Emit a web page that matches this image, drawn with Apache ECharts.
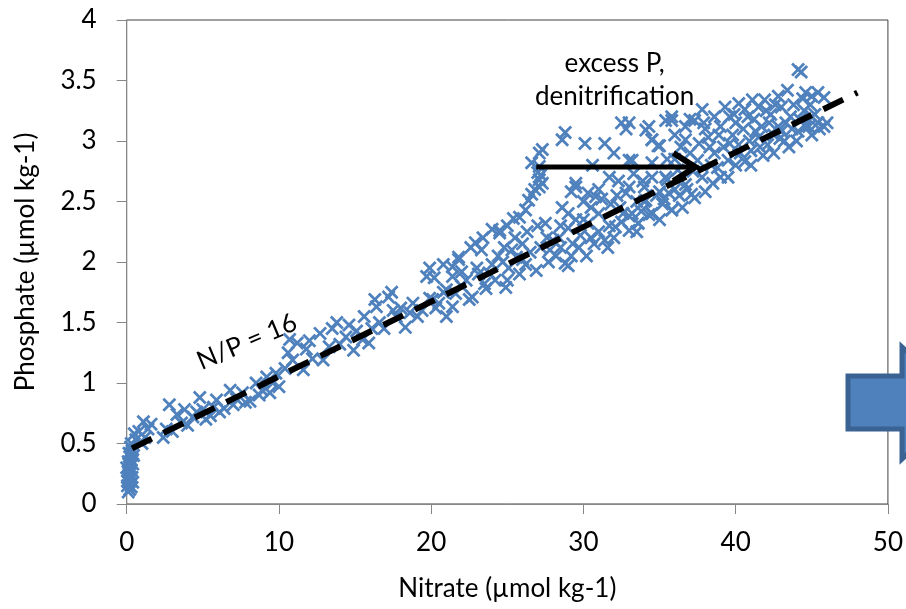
<!DOCTYPE html>
<html><head><meta charset="utf-8">
<script src="https://cdn.jsdelivr.net/npm/echarts@6/dist/echarts.min.js"></script>
<style>html,body{margin:0;padding:0;background:#fff}#c{width:906px;height:609px}</style>
</head><body><div id="c"></div>
<script>
// ---- data ----
const xTitle = 'Nitrate (µmol kg-1)';
const yTitle = 'Phosphate (µmol kg-1)';
const xRange = [0, 50, 10];
const yRange = [0, 4, 0.5];

// [nitrate, phosphate]
const observations = [
  // near-surface cluster
  [0.1,0.10],[0.2,0.12],[0.05,0.15],[0.3,0.14],[0.15,0.18],[0.25,0.2],[0.05,0.22],[0.35,0.22],
  [0.2,0.25],[0.1,0.27],[0.3,0.28],[0.0,0.3],[0.2,0.31],[0.4,0.33],[0.1,0.35],[0.3,0.36],
  [0.2,0.39],[0.45,0.4],[0.15,0.42],[0.35,0.44],[0.25,0.47],[0.05,0.19],[0.4,0.18],[0.15,0.33],
  [0.3,0.5],[0.6,0.53],[0.8,0.6],[1.1,0.68],[1.4,0.62],[1.0,0.5],[0.5,0.58],[1.2,0.55],[0.4,0.45],[1.6,0.66],
  // 2-10
  [2.4,0.55],[2.8,0.82],[3.0,0.6],[3.3,0.74],[3.6,0.67],[4.0,0.65],[4.35,0.72],[4.8,0.88],[5.0,0.78],
  [5.2,0.70],[5.5,0.73],[5.9,0.86],[6.1,0.76],[6.4,0.79],[6.8,0.94],[7.0,0.82],[7.2,0.87],[7.6,0.92],
  [7.8,0.84],[8.1,0.85],[8.5,1.0],[8.7,0.9],[8.9,0.94],[9.2,1.05],[9.4,0.92],[9.6,1.0],[9.8,1.08],
  [10.0,0.97],[4.6,0.76],[5.7,0.80],[2.6,0.62],[3.8,0.78],
  // 10-21
  [10.4,1.12],[10.6,1.25],[10.7,1.36],[10.9,1.19],[11.2,1.33],[11.6,1.11],[11.8,1.28],[12.2,1.2],
  [12.7,1.41],[12.9,1.19],[13.3,1.3],[13.8,1.5],[14.0,1.32],[14.4,1.38],[14.9,1.27],[15.1,1.43],
  [15.5,1.36],[15.9,1.33],[16.1,1.45],[16.4,1.63],[16.6,1.5],[16.9,1.45],[17.2,1.71],[17.5,1.6],
  [17.7,1.55],[18.0,1.62],[18.3,1.46],[18.6,1.58],[18.8,1.66],[19.1,1.55],[19.4,1.6],[19.7,1.88],
  [19.9,1.7],[20.1,1.69],[20.3,1.62],[20.5,1.66],[20.8,1.75],[21.0,1.55],[13.5,1.45],[12.0,1.35],
  [14.6,1.48],[16.3,1.69],[17.4,1.75],[15.6,1.55],[21.4,1.88],[20.2,1.87],
  // 21-36 main band
  [21.0,1.77],[21.4,1.63],[21.4,1.96],[21.6,1.74],[21.8,2.02],[22.0,1.8],[22.3,1.85],[22.5,1.69],
  [22.7,1.71],[22.9,2.16],[23.1,1.9],[23.3,2.1],[23.5,1.82],[23.8,1.91],[24.0,1.98],[24.2,1.85],
  [24.5,2.26],[24.7,2.0],[24.9,1.79],[25.1,1.95],[25.3,2.1],[25.6,2.04],[25.8,1.9],[26.0,2.15],
  [26.2,1.98],[26.5,2.08],[26.9,1.93],[27.2,2.12],[27.5,2.32],[27.7,2.0],[28.0,2.18],[28.2,2.05],
  [28.4,2.2],[28.6,2.45],[28.8,1.99],[29.0,2.28],[29.3,2.15],[29.5,2.62],[29.7,2.12],[30.0,2.35],
  [30.3,2.32],[30.5,2.2],[30.8,2.54],[31.0,2.4],[31.4,2.18],[31.7,2.3],[32.1,2.29],[32.4,2.45],
  [32.8,2.57],[33.0,2.38],[33.2,2.4],[33.6,2.32],[33.0,2.26],[34.0,2.5],[34.3,2.39],[34.5,2.4],
  [34.8,2.55],[35.2,2.48],[35.8,2.43],[36.0,2.6],
  [22.0,1.92],[23.0,1.95],[24.4,2.05],[25.5,2.2],[26.3,2.25],[27.0,2.3],[27.6,2.2],[26.0,2.02],
  [25.0,1.85],[23.6,1.78],[28.5,2.12],[24.8,2.12],
  [28.5,2.3],[29.0,2.4],[29.5,2.35],[30.0,2.5],[30.5,2.45],[31.2,2.52],[31.8,2.48],[32.2,2.55],
  [32.6,2.4],[29.8,2.22],[31.0,2.25],[32.5,2.33],[33.5,2.5],[34.0,2.62],[35.0,2.58],[35.5,2.68],[36.3,2.55],
  [27.8,2.1],[29.2,2.05],[30.7,2.15],[32.0,2.2],[33.8,2.42],[35.3,2.52],[36.8,2.6],[38.5,2.65],
  [40.0,2.8],[41.8,2.88],[43.5,2.95],[45.0,3.05],
  // lower edge
  [29.0,1.97],[30.2,2.05],[31.6,2.12],[33.5,2.25],[35.0,2.35],[36.5,2.45],[38.0,2.58],[39.5,2.7],
  [41.0,2.8],[42.5,2.9],[44.0,3.0],[45.5,3.1],[46.0,3.15],
  // upper branch (excess P)
  [19.9,1.95],[20.8,1.98],[21.8,2.04],[22.6,2.12],[23.4,2.2],[24.0,2.27],[24.5,2.24],[25.0,2.3],
  [25.4,2.36],[25.8,2.37],[26.2,2.43],[26.4,2.51],[26.6,2.56],[26.8,2.6],[27.1,2.62],[27.1,2.68],
  [27.2,2.72],[27.1,2.79],[27.3,2.65],[27.0,2.74],[27.1,2.9],[26.6,2.82],[27.3,2.93],
  // upper scatter 28-37
  [28.6,3.01],[28.8,3.07],[30.1,2.98],[31.4,2.98],[32.5,3.15],[32.8,3.1],[34.1,3.09],[34.5,3.01],
  [35.4,3.17],[35.8,3.2],[36.7,3.12],[37.0,3.18],[29.5,2.65],[29.2,2.58],[30.3,2.57],[31.0,2.6],
  [31.7,2.7],[32.3,2.67],[33.0,2.84],[33.3,2.73],[33.9,2.67],[34.5,2.82],[34.9,2.96],[35.4,2.7],
  [30.6,2.8],[32.0,2.9],
  // upper right band
  [33.0,3.15],[34.3,3.12],[34.5,3.01],[35.8,3.17],[35.0,2.96],[33.2,2.84],[33.0,2.62],[34.5,2.7],
  [34.1,2.51],[35.6,2.57],[36.7,3.01],[37.3,3.17],[37.8,3.26],[38.2,3.03],[38.6,3.2],[39.3,3.28],
  [39.6,3.2],[40.2,3.31],[40.6,3.26],[41.1,3.34],[41.5,3.28],[41.9,3.34],[42.3,3.22],[42.8,3.37],
  [43.4,3.42],[44.1,3.59],[44.3,3.57],[44.6,3.4],[45.0,3.37],[45.4,3.4],[45.8,3.36],[45.4,3.15],
  [45.8,3.12],[44.8,3.12],[37.5,2.84],[38.6,2.9],[39.5,2.84],[40.2,2.97],[40.6,2.83],[41.5,3.03],
  [42.1,2.97],[42.8,3.12],[43.2,3.0],[43.6,3.2],[44.1,3.08],[36.2,2.76],[36.7,2.64],[37.1,2.56],
  [37.8,2.7],[38.4,2.8],[39.0,2.7],[35.8,2.43],[34.5,2.4],[33.6,2.32],[37.3,2.53],
  [36.0,2.85],[36.4,2.95],[37.0,2.9],[37.6,2.98],[38.0,3.1],[38.9,3.05],[39.2,2.95],[39.8,3.05],
  [40.0,3.15],[40.5,3.1],[40.9,3.0],[41.2,3.18],[41.7,3.12],[42.0,3.25],[42.5,3.05],[43.0,3.28],
  [43.3,3.15],[43.8,3.3],[44.2,3.18],[44.5,3.25],[44.9,3.3],[45.2,3.22],[39.0,3.12],[38.3,2.95],
  [41.0,2.92],[43.0,3.08],[37.2,2.75],[35.5,2.85],[36.0,3.05],[37.9,3.15],[39.9,3.22],[40.8,3.2],
  [42.6,3.3],[44.4,3.35],
  [38.8,2.78],[40.3,2.9],[41.6,2.95],[42.9,3.02],[44.6,3.12],[39.6,2.98],[41.3,3.08],[42.2,3.15],
  [43.7,3.1],[45.0,3.2]
];

// Redfield N/P = 16 reference line
const redfieldLine = [[0.35, 0.46], [48, 3.40]];
// annotation anchors (data coordinates)
const arrowFrom = [26.9, 2.785];
const arrowTo = [37.35, 2.785];
const npLabelAt = [7.9, 1.34];
const npLabel = 'N/P = 16';
const excessLabelAt = [32.05, 3.5];
const excessLabel = 'excess P,\ndenitrification';

// ---- chart ----
const FONT = 'Lato';
const chart = echarts.init(document.getElementById('c'), null, {renderer: 'canvas'});
const option = {
  animation: false,
  backgroundColor: '#ffffff',
  textStyle: {fontFamily: FONT},
  grid: {left: 126.7, right: 16, top: 20, bottom: 105, show: true, borderColor: '#404040', borderWidth: 1, backgroundColor: 'transparent'},
  xAxis: {
    type: 'value', min: xRange[0], max: xRange[1], interval: xRange[2],
    name: xTitle, nameLocation: 'middle', nameGap: 72,
    nameTextStyle: {fontFamily: FONT, fontSize: 26, color: '#000'},
    axisLine: {show: true, onZero: false, lineStyle: {color: '#878787', width: 1}},
    axisTick: {show: true, inside: false, length: 10, lineStyle: {color: '#878787'}},
    axisLabel: {fontFamily: FONT, fontSize: 26, color: '#000', margin: 26},
    splitLine: {show: false}
  },
  yAxis: {
    type: 'value', min: yRange[0], max: yRange[1], interval: yRange[2],
    name: yTitle, nameLocation: 'middle', nameGap: 88, nameRotate: 90,
    nameTextStyle: {fontFamily: FONT, fontSize: 26, color: '#000'},
    axisLine: {show: true, onZero: false, lineStyle: {color: '#878787', width: 1}},
    axisTick: {show: true, inside: false, length: 10, lineStyle: {color: '#878787'}},
    axisLabel: {fontFamily: FONT, fontSize: 26, color: '#000', margin: 30},
    splitLine: {show: false}
  },
  series: [
    {
      type: 'scatter',
      data: observations,
      symbol: 'path://M1.4,0L5,3.6L8.6,0L10,1.4L6.4,5L10,8.6L8.6,10L5,6.4L1.4,10L0,8.6L3.6,5L0,1.4Z',
      symbolSize: 14,
      itemStyle: {color: '#4F81BD', opacity: 1},
      z: 2
    },
    {
      type: 'line',
      data: redfieldLine,
      symbol: 'none',
      lineStyle: {color: '#000', width: 6, type: [22, 13], cap: 'butt'},
      z: 3
    }
  ]
};
chart.setOption(option);

const px = v => chart.convertToPixel({gridIndex: 0}, v);
const a0 = px(arrowFrom), a1 = px(arrowTo);
const np = px(npLabelAt), ex = px(excessLabelAt);
chart.setOption({
  graphic: [
    {type: 'line', z: 50, shape: {x1: a0[0], y1: a0[1], x2: a1[0] - 4, y2: a1[1]},
     style: {stroke: '#000', lineWidth: 5}},
    {type: 'polyline', z: 50, shape: {points: [[a1[0] - 22, a1[1] - 14], [a1[0], a1[1]], [a1[0] - 22, a1[1] + 14]]},
     style: {stroke: '#000', lineWidth: 6, fill: null, lineJoin: 'miter'}},
    {type: 'text', z: 50, x: np[0], y: np[1], rotation: 23 * Math.PI / 180,
     style: {text: npLabel, font: '26px ' + FONT, fill: '#000', align: 'center', verticalAlign: 'middle', textAlign: 'center', textVerticalAlign: 'middle'}},
    {type: 'text', z: 50, x: ex[0], y: ex[1],
     style: {text: excessLabel, font: '26px ' + FONT, lineHeight: 33, fill: '#000', align: 'center', verticalAlign: 'middle', textAlign: 'center', textVerticalAlign: 'middle'}},
    {type: 'polygon', z: 100,
     shape: {points: [[848, 376], [902, 376], [902, 347], [962, 403], [902, 459], [902, 429], [848, 429]]},
     style: {fill: '#4F81BD', stroke: '#3A6293', lineWidth: 5, lineJoin: 'miter'}}
  ]
});
</script>
</body></html>
